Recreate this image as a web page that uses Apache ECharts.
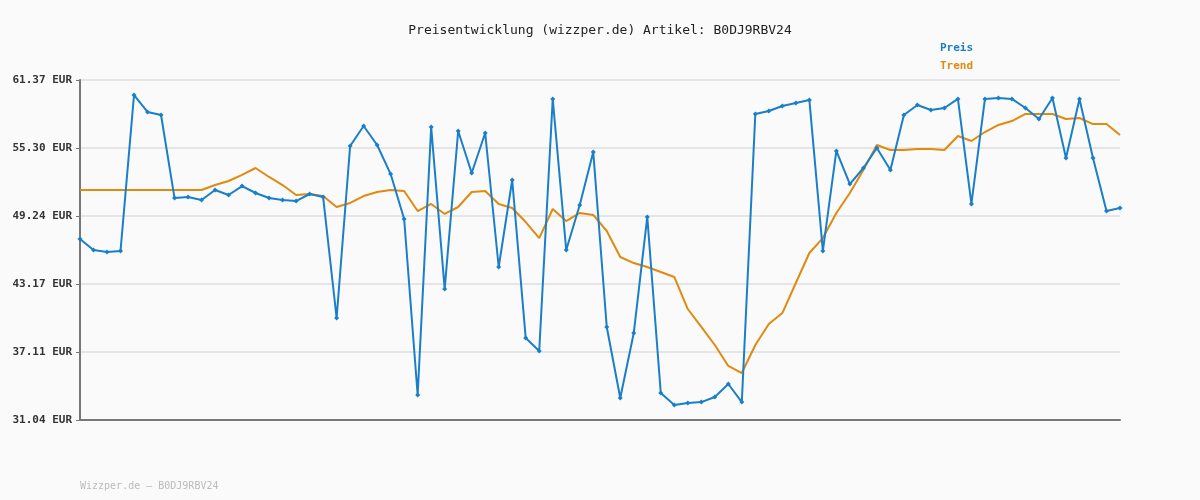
<!DOCTYPE html>
<html><head><meta charset="utf-8">
<script src="https://cdn.jsdelivr.net/npm/echarts@6/dist/echarts.min.js"></script>
<style>html,body{margin:0;background:#fafafa}#c{width:1200px;height:500px}</style>
</head><body><div id="c"></div>
<script>
const yTicks = [31.04, 37.11, 43.17, 49.24, 55.30, 61.37];
const preis = [47.19,46.20,46.03,46.12,60.03,58.52,58.25,50.84,50.93,50.66,
51.56,51.11,51.91,51.29,50.84,50.66,50.57,51.20,50.93,40.14,
55.48,57.27,55.57,52.98,48.97,33.27,57.18,42.73,56.82,53.07,
56.64,44.69,52.45,38.35,37.19,59.68,46.20,50.22,54.95,39.34,
33.00,38.80,49.15,33.45,32.38,32.56,32.64,33.09,34.25,32.64,
58.34,58.60,59.05,59.32,59.59,46.12,55.04,52.09,53.52,55.30,
53.34,58.25,59.14,58.69,58.87,59.68,50.31,59.68,59.76,59.68,
58.87,57.89,59.76,54.41,59.68,54.41,49.68,49.95];
const trend = [51.56,51.56,51.56,51.56,51.56,51.56,51.56,51.56,51.56,51.56,
52.00,52.36,52.90,53.52,52.72,52.00,51.11,51.20,51.02,50.04,
50.40,51.02,51.38,51.56,51.47,49.68,50.31,49.42,50.04,51.38,
51.47,50.31,49.95,48.70,47.27,49.86,48.79,49.51,49.33,47.90,
45.58,45.04,44.69,44.24,43.80,40.94,39.34,37.73,35.86,35.23,
37.73,39.60,40.58,43.26,45.94,47.27,49.51,51.29,53.34,55.57,
55.13,55.13,55.21,55.21,55.13,56.37,55.93,56.73,57.36,57.71,
58.34,58.34,58.34,57.89,57.98,57.44,57.44,56.46];
const categories = preis.map((_, i) => String(i + 1));
const font = '"DejaVu Sans Mono", monospace';
const chart = echarts.init(document.getElementById('c'));
chart.setOption({
  backgroundColor: '#fafafa',
  animation: false,
  title: { text: 'Preisentwicklung (wizzper.de) Artikel: B0DJ9RBV24', left: 'center', top: 19,
    textStyle: { fontFamily: font, fontSize: 13, fontWeight: 'normal', color: '#222' } },
  legend: { orient: 'vertical', left: 930, top: 36, itemGap: 6, icon: 'none', itemWidth: 0,
    data: [
      { name: 'Preis', textStyle: { color: '#1a7fc8' } },
      { name: 'Trend', textStyle: { color: '#e08a10' } }
    ],
    textStyle: { fontFamily: font, fontSize: 11, fontWeight: 'bold' } },
  graphic: [{ type: 'text', left: 80, top: 481,
    style: { text: 'Wizzper.de – B0DJ9RBV24', fill: '#bbb', font: '10px ' + font } }],
  grid: { left: 80, right: 80, top: 80, bottom: 80 },
  xAxis: { type: 'category', data: categories, boundaryGap: false,
    axisLine: { lineStyle: { color: '#777', width: 2 } },
    axisTick: { show: false }, axisLabel: { show: false }, splitLine: { show: false } },
  yAxis: { type: 'value', min: 31.04, max: 61.37,
    axisLine: { show: true, lineStyle: { color: '#777', width: 2 } },
    axisTick: { show: true, customValues: yTicks, length: 4, lineStyle: { color: '#777' } },
    axisLabel: { customValues: yTicks, formatter: v => v.toFixed(2) + ' EUR',
      fontFamily: font, fontSize: 11, fontWeight: 'bold', color: '#333', margin: 8 },
    splitLine: { show: true, lineStyle: { color: '#e5e5e5', width: 2 } } },
  series: [
    { name: 'Preis', type: 'line', data: preis, symbol: 'diamond', symbolSize: 5,
      lineStyle: { color: '#1a7fc8', width: 2 }, itemStyle: { color: '#1a7fc8' }, z: 3 },
    { name: 'Trend', type: 'line', data: trend, showSymbol: false,
      lineStyle: { color: '#e08a10', width: 2 }, itemStyle: { color: '#e08a10' }, z: 2 }
  ]
});
</script></body></html>
